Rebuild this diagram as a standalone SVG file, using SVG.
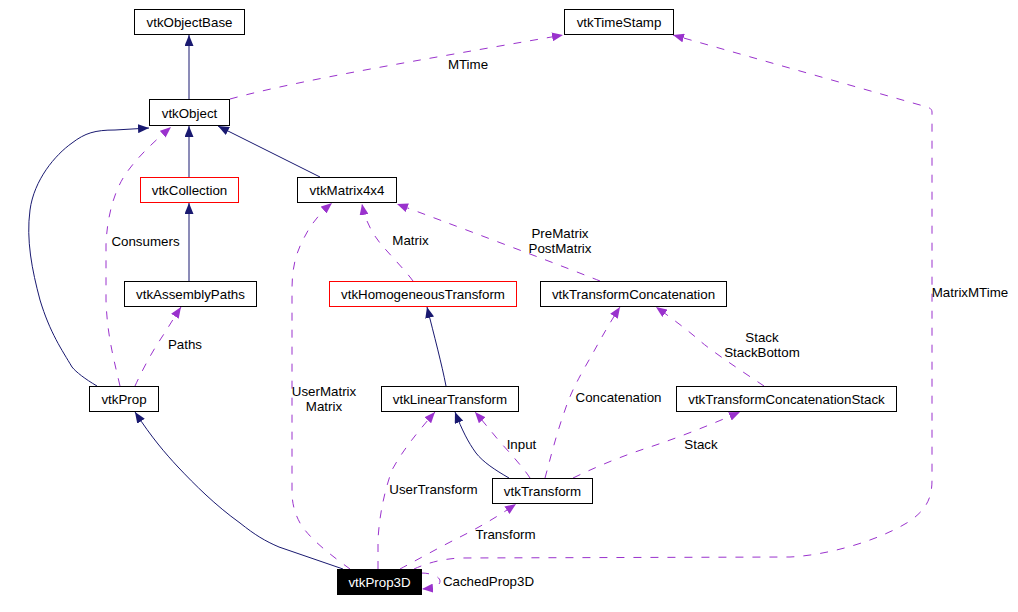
<svg xmlns="http://www.w3.org/2000/svg" width="1018" height="612" viewBox="0 0 1018 612">
<style>
.node rect{fill:#ffffff;stroke:#000000;stroke-width:1}
.node.red rect{stroke:#ff0000}
.node.cur rect{fill:#000000;stroke:#000000}
text{font-family:"Liberation Sans",Arial,Helvetica,sans-serif;font-size:13.33px;fill:#000000;text-anchor:middle}
.node.cur text{fill:#ffffff}
.inh{fill:none;stroke:#191970;stroke-width:1;marker-end:url(#ah)}
.use{fill:none;stroke:#9a32cd;stroke-width:1;stroke-dasharray:8,9;marker-end:url(#ap)}
</style>
<defs>
<marker id="ah" viewBox="0 0 11 9" refX="11" refY="4.5" markerWidth="11" markerHeight="9" markerUnits="userSpaceOnUse" orient="auto">
<path d="M0,0 L11,4.5 L0,9 z" fill="#191970" stroke="none"/>
</marker>
<marker id="ap" viewBox="0 0 11 9" refX="11" refY="4.5" markerWidth="11" markerHeight="9" markerUnits="userSpaceOnUse" orient="auto">
<path d="M0,0 L11,4.5 L0,9 z" fill="#9a32cd" stroke="none"/>
</marker>
</defs>
<rect x="0" y="0" width="1018" height="612" fill="#ffffff"/>
<g id="connectors">
<path class="inh" d="M189,99 L189,35"/>
<path class="inh" d="M189,177 L189,126"/>
<path class="inh" d="M320,177 L218,126"/>
<path class="inh" d="M189,281 L189,203"/>
<path class="inh" d="M97,386 C85,379 76,372 72,367 C62,350 50,333 40,300 C32,270 26,240 30,210 C34,180 55,155 72,143 C85,133 95,130 115,130 L149,128"/>
<path class="inh" d="M446,386 C442,365 434,335 427,307"/>
<path class="inh" d="M509,478 C495,470 483,462 476,453 C468,442 462,430 455,412"/>
<path class="inh" d="M343,569 L279,547 C265,541 255,535 240,523 C215,505 195,485 178,467 C165,453 152,438 135,412"/>
<path class="use" d="M230,99 C300,80 420,60 563,35"/>
<path class="use" d="M414,569 C425,564 440,559 460,558 L790,557 C830,555 880,540 910,521 C925,510 932,500 932,480 L932,112 C932,108 928,107 920,105 L673,35"/>
<path class="use" d="M120,386 C114,360 107,335 106,300 L106,245 C107,215 115,190 125,175 C135,160 150,145 171,127"/>
<path class="use" d="M135,386 C140,375 150,355 160,340 C168,328 175,316 181,307"/>
<path class="use" d="M350,569 C335,558 310,540 300,523 C293,510 292,500 292,490 L292,290 C292,270 295,255 303,240 C310,225 320,213 332,203"/>
<path class="use" d="M413,281 C405,270 390,255 380,243 C372,233 365,220 362,204"/>
<path class="use" d="M600,281 C560,265 440,220 397,204"/>
<path class="use" d="M545,478 C550,460 556,435 565,410 C570,395 575,385 585,367 C595,350 605,330 620,307"/>
<path class="use" d="M530,478 C525,470 512,455 500,442 C490,430 482,420 475,412"/>
<path class="use" d="M764,386 C740,370 710,350 699,340 C685,328 670,317 656,307"/>
<path class="use" d="M573,478 C600,465 625,455 650,447 C680,437 710,425 740,412"/>
<path class="use" d="M378,569 L378,540 C379,520 383,495 392,470 C400,455 413,437 435,412"/>
<path class="use" d="M400,569 C415,561 440,547 460,537 C480,527 500,515 516,504"/>
<path class="use" d="M421,573 C432,573 440,577 440,581 C440,586 434,588 422,589"/>
<text x="468" y="69">MTime</text>
<text x="970" y="297">MatrixMTime</text>
<text x="145.5" y="246">Consumers</text>
<text x="185" y="349">Paths</text>
<text x="324" y="396">UserMatrix</text>
<text x="324" y="411">Matrix</text>
<text x="410.5" y="245">Matrix</text>
<text x="560" y="238">PreMatrix</text>
<text x="560" y="253">PostMatrix</text>
<text x="618.5" y="402">Concatenation</text>
<text x="521.5" y="449">Input</text>
<text x="762" y="342">Stack</text>
<text x="762" y="357">StackBottom</text>
<text x="701" y="449">Stack</text>
<text x="433.5" y="494">UserTransform</text>
<text x="505.5" y="539">Transform</text>
<text x="488.5" y="586">CachedProp3D</text>
</g>
<g id="vtkObjectBase" class="node"><rect x="134.5" y="9.5" width="110" height="25"/><text x="189.5" y="27">vtkObjectBase</text></g>
<g id="vtkTimeStamp" class="node"><rect x="564.5" y="9.5" width="109" height="25"/><text x="619" y="27">vtkTimeStamp</text></g>
<g id="vtkObject" class="node"><rect x="149.5" y="99.5" width="80" height="26"/><text x="189.5" y="118">vtkObject</text></g>
<g id="vtkCollection" class="node red"><rect x="140.5" y="177.5" width="98" height="25"/><text x="189.5" y="195">vtkCollection</text></g>
<g id="vtkMatrix4x4" class="node"><rect x="297.5" y="177.5" width="99" height="25"/><text x="347" y="195">vtkMatrix4x4</text></g>
<g id="vtkAssemblyPaths" class="node"><rect x="124.5" y="281.5" width="132" height="25"/><text x="190.5" y="299">vtkAssemblyPaths</text></g>
<g id="vtkHomogeneousTransform" class="node red"><rect x="329.5" y="281.5" width="187" height="25"/><text x="423" y="299">vtkHomogeneousTransform</text></g>
<g id="vtkTransformConcatenation" class="node"><rect x="540.5" y="281.5" width="186" height="25"/><text x="633.5" y="299">vtkTransformConcatenation</text></g>
<g id="vtkProp" class="node"><rect x="89.5" y="386.5" width="69" height="25"/><text x="124" y="404">vtkProp</text></g>
<g id="vtkLinearTransform" class="node"><rect x="381.5" y="386.5" width="137" height="25"/><text x="450" y="404">vtkLinearTransform</text></g>
<g id="vtkTransformConcatenationStack" class="node"><rect x="676.5" y="386.5" width="220" height="25"/><text x="786.5" y="404">vtkTransformConcatenationStack</text></g>
<g id="vtkTransform" class="node"><rect x="492.5" y="478.5" width="100" height="25"/><text x="542.5" y="496">vtkTransform</text></g>
<g id="vtkProp3D" class="node cur"><rect x="337.5" y="569.5" width="84" height="25"/><text x="379.5" y="587">vtkProp3D</text></g>
</svg>
